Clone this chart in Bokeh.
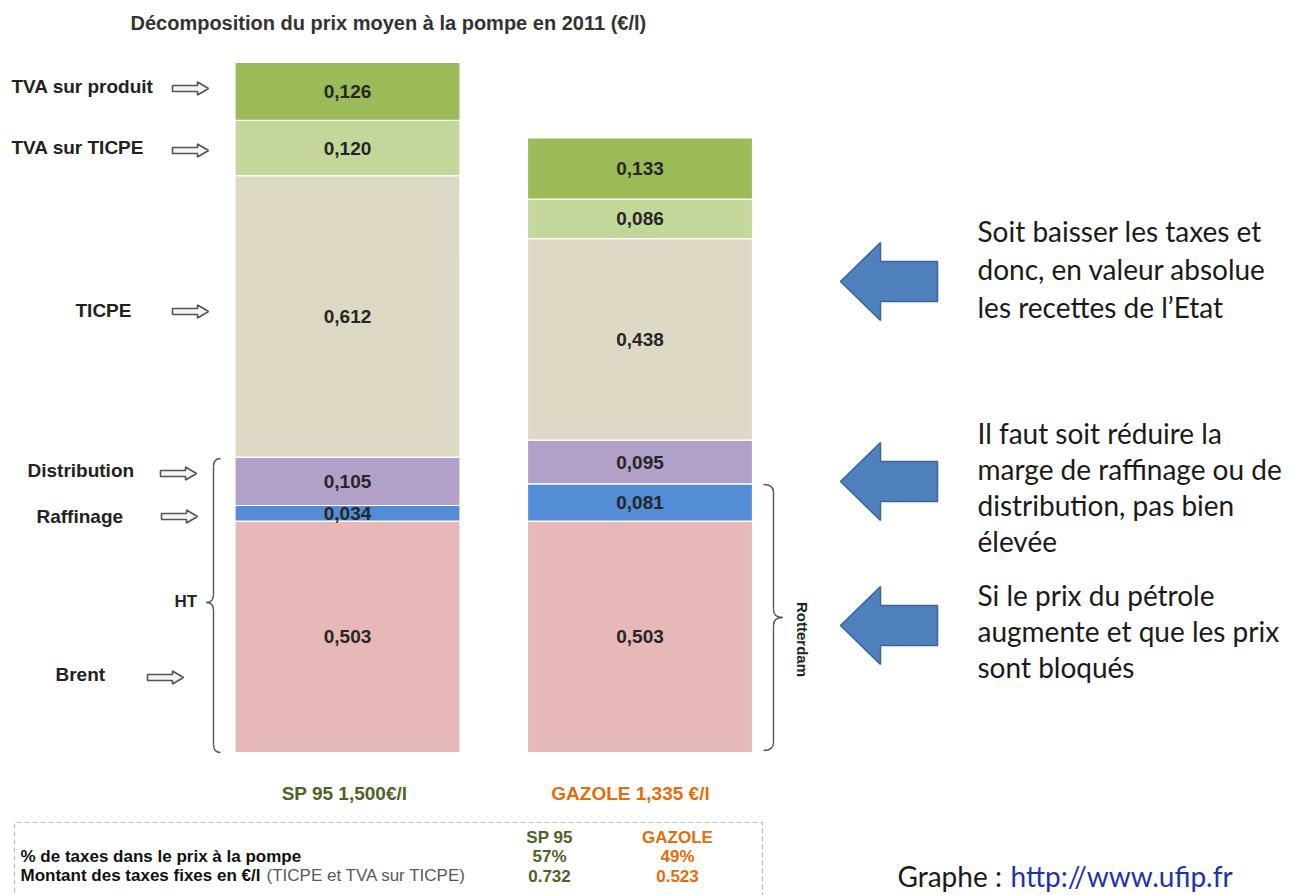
import numpy as np
from bokeh.plotting import figure
from bokeh.models import Range1d, ColumnDataSource
from bokeh.core.properties import value
from bokeh.embed import file_html
from bokeh.resources import INLINE

# ---------------- data ----------------
components = ["Brent", "Raffinage", "Distribution", "TICPE", "TVA sur TICPE", "TVA sur produit"]
sp95 = [0.503, 0.034, 0.105, 0.612, 0.120, 0.126]
gazole = [0.503, 0.081, 0.095, 0.438, 0.086, 0.133]
seg_colors = ["#E6B8B7", "#538DD5", "#B1A0C7", "#DDD9C4", "#C4D79B", "#9BBB59"]
products = ["SP 95 1,500€/l", "GAZOLE 1,335 €/l"]
product_colors = ["#4F6228", "#E46C0A"]
table_headers = ["SP 95", "GAZOLE"]
table_rows = ["% de taxes dans le prix à la pompe", "Montant des taxes fixes en €/l"]
table_row2_note = "(TICPE et TVA sur TICPE)"
tax_share = ["57%", "49%"]
fixed_tax = ["0.732", "0.523"]
left_labels = ["TVA sur produit", "TVA sur TICPE", "TICPE", "Distribution", "Raffinage", "Brent"]
comments = [
    ["Soit baisser les taxes et", "donc, en valeur absolue", "les recettes de l\u2019Etat"],
    ["Il faut soit réduire la", "marge de raffinage ou de", "distribution, pas bien", "élevée"],
    ["Si le prix du pétrole", "augmente et que les prix", "sont bloqués"],
]
title = "Décomposition du prix moyen à la pompe en 2011 (€/l)"
source_label = "Graphe :"
source_url = "http://www.ufip.fr"

# ---------------- layout ----------------
W, H = 1290, 895
BASE_PX = 752          # pixel row of value 0
PX_PER_UNIT = 460.0    # pixels per €/l
bar_centers = [347, 639.5]
bar_width = 225

FONT = value("Liberation Sans")
CAL = value("Lato")

p = figure(width=W, height=H, x_range=Range1d(0, W),
           y_range=Range1d(-(H - BASE_PX) / PX_PER_UNIT, BASE_PX / PX_PER_UNIT),
           output_backend="svg", toolbar_location=None, min_border=0)
p.extra_y_ranges = {"px": Range1d(H, 0)}
p.xaxis.visible = False
p.yaxis.visible = False
p.grid.visible = False
p.outline_line_color = None
p.background_fill_color = "white"
p.border_fill_color = "white"

# ---------------- stacked bars ----------------
for xc, vals in zip(bar_centers, [sp95, gazole]):
    tops = np.cumsum(vals)
    bottoms = tops - np.array(vals)
    src = ColumnDataSource(dict(
        x=[xc] * len(vals), bottom=bottoms, top=tops, color=seg_colors,
        mid=(tops + bottoms) / 2,
        lab=[f"{v:.3f}".replace(".", ",") for v in vals]))
    p.vbar(x="x", bottom="bottom", top="top", width=bar_width, fill_color="color",
           line_color="white", line_width=1.2, source=src)
    p.text(x="x", y="mid", text="lab", source=src, text_align="center",
           text_baseline="middle", text_font=FONT, text_font_style="bold",
           text_font_size="19px", text_color="#262626")


def T(x, y, txt, size, color="#222222", bold=True, align="left", font=FONT, angle=0):
    p.text(x=[x], y=[y], text=[txt], y_range_name="px", text_align=align,
           text_baseline="middle", text_font=font,
           text_font_style="bold" if bold else "normal",
           text_font_size=size, text_color=color, angle=angle)


# title
T(130, 22, title, "20px", color="#333333")

# left labels + small hollow arrows
lab_pos = [(11, 86), (11, 147), (75, 310), (27, 470), (36, 516), (55, 674)]
arrow_pos = [(172, 88), (172, 150), (172, 311), (160, 473), (161, 516), (147, 677)]
for name, (lx, ly) in zip(left_labels, lab_pos):
    T(lx, ly, name, "19px")
axs, ays = [], []
for (ax, ay) in arrow_pos:
    axs.append([ax, ax + 25, ax + 25, ax + 36, ax + 25, ax + 25, ax])
    ays.append([ay - 3, ay - 3, ay - 6.5, ay, ay + 6.5, ay + 3, ay + 3])
p.patches(xs=axs, ys=ays, y_range_name="px", fill_color="#F4F4F4",
          line_color="#555555", line_width=1.6)


# braces
def brace(x_line, x_end, x_tip, y0, y1, ym, r=8):
    qs = [
        (x_end, y0, x_line, y0 + r, x_line, y0),
        (x_line, ym - r, x_tip, ym, x_line, ym),
        (x_tip, ym, x_line, ym + r, x_line, ym),
        (x_line, y1 - r, x_end, y1, x_line, y1),
    ]
    for (a, b, c, d, e, f) in qs:
        p.quadratic(x0=[a], y0=[b], x1=[c], y1=[d], cx=[e], cy=[f],
                    y_range_name="px", line_color="#555555", line_width=1.4)
    p.segment(x0=[x_line, x_line], y0=[y0 + r, ym + r], x1=[x_line, x_line],
              y1=[ym - r, y1 - r], y_range_name="px", line_color="#555555",
              line_width=1.4)


brace(213, 220, 206, 458, 752, 602)
T(174, 601, "HT", "17px")
brace(773, 763, 782, 484, 750, 617)
T(802, 639, "Rotterdam", "15px", align="center", angle=-np.pi / 2)

# big blue arrows
bx, by = [], []
for yc in [281, 481, 625]:
    bx.append([840, 880, 880, 937, 937, 880, 880])
    by.append([yc, yc - 39, yc - 20, yc - 20, yc + 20, yc + 20, yc + 39])
p.patches(xs=bx, ys=by, y_range_name="px", fill_color="#4F81BD",
          line_color="#3A649A", line_width=1.5)

# comments
starts = [230, 432, 594]
steps = [38, 36, 36]
for lines, y0, st in zip(comments, starts, steps):
    for i, line in enumerate(lines):
        T(977, y0 + i * st, line, "28px", color="#1a1a1a", bold=False, font=CAL)

# product labels
label_x = [344, 630]
for xc, name, col in zip(label_x, products, product_colors):
    T(xc, 793, name, "19px", color=col, align="center")

# dashed box
p.multi_line(xs=[[14, 14, 762, 762]], ys=[[900, 822, 822, 900]], y_range_name="px",
             line_color="#BBBBBB", line_dash="5 3", line_width=1.2)

col_x = [549, 677]
for cx, hdr, c in zip(col_x, table_headers, product_colors):
    T(cx, 837, hdr, "17px", color=c, align="center")
T(20, 856, table_rows[0], "17px", color="#111111")
T(20, 875, table_rows[1], "17px", color="#111111")
T(266, 875, table_row2_note, "17px", color="#595959", bold=False)
for cx, a, b, c in zip(col_x, tax_share, fixed_tax, product_colors):
    T(cx, 856, a, "17px", color=c, align="center")
    T(cx, 875, b, "17px", color=c, align="center")

# source
T(897, 875, source_label, "28px", color="#1a1a1a", bold=False, font=CAL)
T(1010, 875, source_url, "28px", color="#2233AA", bold=False, font=CAL)

open("out.html", "w").write(file_html(p, INLINE))
